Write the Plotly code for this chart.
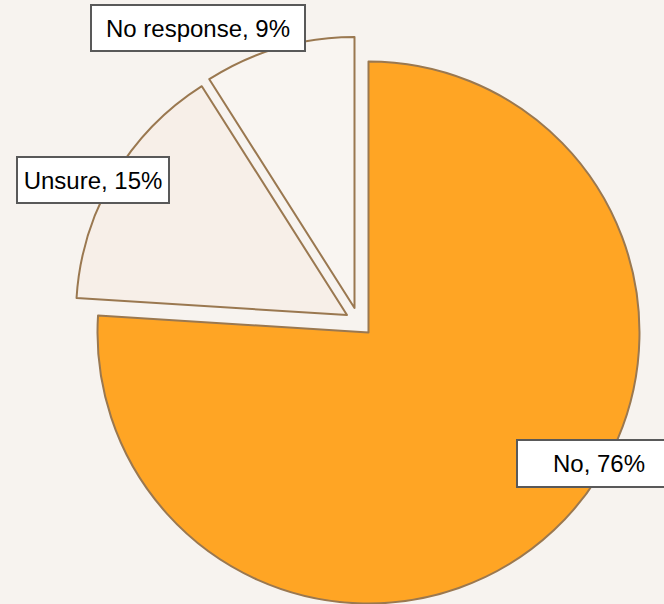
import plotly.graph_objects as go

# ---- data ----
categories = ["No", "Unsure", "No response"]
values = [76, 15, 9]
label_texts = ["No, 76%", "Unsure, 15%", "No response, 9%"]

# ---- style / layout constants ----
W, H = 664, 604
BG = "#F7F3EF"
FILLS = ["#FFA524", "#F7EFE8", "#F9F5F1"]
EDGE = "#9A7850"
R = 271
# pie centre for each slice (exploded slices are drawn as their own pie, offset)
CENTERS = [(368.5, 332.5), (347.0, 315.0), (354.5, 308.0)]
# label boxes: centre x, centre y, width, height (px)
BOXES = [(599, 463.5, 166, 49), (93, 180, 154, 48), (198, 28, 216, 48)]
FONT = "Liberation Sans, Arial, sans-serif"

def clamp(v):
    return max(0.0, min(1.0, v))

fig = go.Figure()
for i, (cx, cy) in enumerate(CENTERS):
    colors = ["rgba(0,0,0,0)"] * len(values)
    widths = [0] * len(values)
    colors[i] = FILLS[i]
    widths[i] = 2
    fig.add_trace(go.Pie(
        labels=categories,
        values=values,
        sort=False,
        direction="clockwise",
        rotation=0,
        marker=dict(colors=colors, line=dict(color=EDGE, width=widths)),
        textinfo="none",
        hoverinfo="label+percent",
        showlegend=False,
        domain=dict(
            x=[clamp((cx - R) / W), clamp((cx + R) / W)],
            y=[clamp(1 - (cy + R) / H), clamp(1 - (cy - R) / H)],
        ),
    ))

annotations = []
for txt, (bx, by, bw, bh) in zip(label_texts, BOXES):
    annotations.append(dict(
        text=txt,
        x=bx / W, y=1 - by / H,
        xref="paper", yref="paper",
        xanchor="center", yanchor="middle",
        showarrow=False,
        width=bw - 4, height=bh - 4,
        bgcolor="#FFFFFF",
        bordercolor="#595959",
        borderwidth=2,
        borderpad=0,
        font=dict(family=FONT, size=24, color="#000000"),
    ))

fig.update_layout(
    width=W, height=H,
    margin=dict(l=0, r=0, t=0, b=0),
    paper_bgcolor=BG,
    plot_bgcolor=BG,
    annotations=annotations,
)

fig.write_html("out.html")
